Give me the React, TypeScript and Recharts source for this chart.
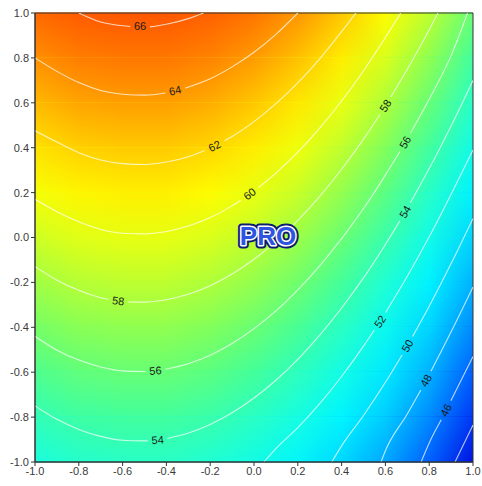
import { ComposedChart, XAxis, YAxis, Line, Scatter, ReferenceArea } from 'recharts'

const FONT = '"Liberation Sans", Arial, sans-serif'

const ticks = [-1, -0.8, -0.6, -0.4, -0.2, 0, 0.2, 0.4, 0.6, 0.8, 1]

// response surface read on a 0.2 grid, top row (y = 1) first
const gridX = [-1, -0.8, -0.6, -0.4, -0.2, 0, 0.2, 0.4, 0.6, 0.8, 1]
const gridY = [1, 0.8, 0.6, 0.4, 0.2, 0, -0.2, -0.4, -0.6, -0.8, -1]
const zRows = [
  [65.7, 66.3, 66.5, 66.5, 66.1, 65.3, 64.2, 62.7, 60.9, 58.7, 56.1],
  [64.4, 65.0, 65.2, 65.2, 64.8, 64.0, 62.9, 61.4, 59.6, 57.4, 54.8],
  [63.1, 63.7, 63.9, 63.9, 63.5, 62.7, 61.6, 60.1, 58.3, 56.1, 53.5],
  [61.8, 62.4, 62.6, 62.6, 62.2, 61.4, 60.3, 58.8, 57.0, 54.8, 52.2],
  [60.5, 61.1, 61.3, 61.3, 60.9, 60.1, 59.0, 57.5, 55.7, 53.5, 50.9],
  [59.2, 59.8, 60.0, 60.0, 59.6, 58.8, 57.7, 56.2, 54.4, 52.2, 49.6],
  [57.9, 58.5, 58.7, 58.7, 58.3, 57.5, 56.4, 54.9, 53.1, 50.9, 48.3],
  [56.6, 57.2, 57.4, 57.4, 57.0, 56.2, 55.1, 53.6, 51.8, 49.6, 47.0],
  [55.3, 55.9, 56.1, 56.1, 55.7, 54.9, 53.8, 52.3, 50.5, 48.3, 45.7],
  [54.0, 54.6, 54.8, 54.8, 54.4, 53.6, 52.5, 51.0, 49.2, 47.0, 44.4],
  [52.7, 53.3, 53.5, 53.5, 53.1, 52.3, 51.2, 49.7, 47.9, 45.7, 43.1],
]

// contour lines, [x, y]; null marks the gap left for the label
const c66 = [[-0.8, 1], [-0.7, 0.96], [-0.6, 0.943], [-0.565, 0.94], [-0.52, null], [-0.475, 0.938], [-0.4, 0.95], [-0.3, 0.975], [-0.23, 1]]
const c64 = [[-1, 0.8], [-0.9, 0.74], [-0.8, 0.69], [-0.7, 0.655], [-0.6, 0.638], [-0.5, 0.634], [-0.405, 0.644], [-0.36, null], [-0.315, 0.665], [-0.2, 0.707], [-0.1, 0.76], [0, 0.825], [0.1, 0.905], [0.2, 1]]
const c62 = [[-1, 0.475], [-0.9, 0.425], [-0.8, 0.378], [-0.7, 0.345], [-0.6, 0.329], [-0.5, 0.325], [-0.4, 0.336], [-0.3, 0.36], [-0.225, 0.388], [-0.18, null], [-0.135, 0.431], [-0.1, 0.45], [0, 0.516], [0.1, 0.596], [0.2, 0.689], [0.3, 0.796], [0.4, 0.917], [0.465, 1]]
const c60 = [[-1, 0.17], [-0.9, 0.115], [-0.8, 0.07], [-0.7, 0.036], [-0.6, 0.019], [-0.5, 0.016], [-0.4, 0.027], [-0.3, 0.051], [-0.2, 0.089], [-0.1, 0.141], [-0.06, 0.166], [-0.02, null], [0.02, 0.222], [0.1, 0.287], [0.2, 0.38], [0.3, 0.487], [0.4, 0.608], [0.5, 0.743], [0.6, 0.891], [0.67, 1]]
const c58 = [[-1, -0.13], [-0.9, -0.19], [-0.8, -0.235], [-0.7, -0.268], [-0.665, -0.275], [-0.62, null], [-0.575, -0.287], [-0.5, -0.288], [-0.4, -0.277], [-0.3, -0.253], [-0.2, -0.215], [-0.1, -0.163], [0, -0.097], [0.1, -0.018], [0.2, 0.076], [0.3, 0.183], [0.4, 0.304], [0.5, 0.438], [0.575, 0.548], [0.6, null], [0.625, 0.626], [0.7, 0.749], [0.8, 0.925], [0.84, 1]]
const c56 = [[-1, -0.44], [-0.9, -0.502], [-0.8, -0.546], [-0.7, -0.577], [-0.6, -0.594], [-0.495, -0.597], [-0.45, null], [-0.405, -0.587], [-0.3, -0.562], [-0.2, -0.524], [-0.1, -0.472], [0, -0.406], [0.1, -0.327], [0.2, -0.233], [0.3, -0.126], [0.4, -0.005], [0.5, 0.129], [0.6, 0.278], [0.666, 0.383], [0.69, null], [0.714, 0.464], [0.8, 0.616], [0.9, 0.81], [0.975, 1]]
const c54 = [[-1, -0.75], [-0.9, -0.81], [-0.8, -0.855], [-0.7, -0.886], [-0.6, -0.903], [-0.485, -0.906], [-0.44, null], [-0.395, -0.895], [-0.3, -0.871], [-0.2, -0.833], [-0.1, -0.781], [0, -0.715], [0.1, -0.636], [0.2, -0.543], [0.3, -0.435], [0.4, -0.314], [0.5, -0.18], [0.6, -0.031], [0.666, 0.074], [0.69, null], [0.714, 0.155], [0.8, 0.307], [0.9, 0.497], [1, 0.7]]
const c52 = [[0.045, -1], [0.1, -0.94], [0.2, -0.847], [0.3, -0.74], [0.4, -0.619], [0.5, -0.484], [0.549, -0.413], [0.575, null], [0.601, -0.334], [0.7, -0.173], [0.8, 0.003], [0.9, 0.193], [1, 0.39]]
const c50 = [[0.355, -1], [0.4, -0.928], [0.5, -0.793], [0.6, -0.645], [0.676, -0.523], [0.7, null], [0.724, -0.441], [0.8, -0.306], [0.9, -0.116], [1, 0.085]]
const c48 = [[0.58, -1], [0.6, -0.95], [0.7, -0.786], [0.762, -0.679], [0.785, null], [0.808, -0.596], [0.9, -0.42], [1, -0.22]]
const c46 = [[0.763, -1], [0.8, -0.915], [0.855, -0.812], [0.877, null], [0.899, -0.727], [1, -0.53]]
const c44 = [[0.918, -1], [1, -0.835]]

const contours = [c66, c64, c62, c60, c58, c56, c54, c52, c50, c48, c46, c44]

const labelText = ['66', '64', '62', '60', '58', '56', '54', '58', '56', '54', '52', '50', '48', '46']
const labelX = [-0.52, -0.36, -0.18, -0.02, -0.62, -0.45, -0.44, 0.6, 0.69, 0.69, 0.575, 0.7, 0.785, 0.877]
const labelY = [0.94, 0.655, 0.408, 0.195, -0.282, -0.593, -0.901, 0.587, 0.424, 0.115, -0.374, -0.482, -0.637, -0.769]
const labelTilt = [0, -13, -26, -38, 7, -4, -4, -58, -60, -60, -57, -60, -62, -63]

// colour map (z -> rgb)
const heatStops: [number, number[]][] = [
  [43, [0, 16, 224]],
  [45, [0, 72, 255]],
  [47, [0, 140, 255]],
  [49, [0, 200, 255]],
  [51, [0, 245, 255]],
  [53, [30, 255, 215]],
  [55, [70, 255, 150]],
  [57, [130, 255, 90]],
  [59, [200, 255, 40]],
  [60.8, [255, 255, 0]],
  [62.5, [255, 205, 0]],
  [64, [255, 155, 0]],
  [65.5, [255, 110, 0]],
  [67, [255, 75, 0]],
]

function heatColor(z: number) {
  if (z <= heatStops[0][0]) return `rgb(${heatStops[0][1].join(',')})`
  for (let i = 1; i < heatStops.length; i++) {
    const [z1, c1] = heatStops[i]
    if (z <= z1) {
      const [z0, c0] = heatStops[i - 1]
      const t = (z - z0) / (z1 - z0)
      const c = c0.map((v, j) => Math.round(v + (c1[j] - v) * t))
      return `rgb(${c.join(',')})`
    }
  }
  return `rgb(${heatStops[heatStops.length - 1][1].join(',')})`
}

function HeatDefs() {
  return (
    <defs>
      {zRows.map((row, r) => (
        <linearGradient key={r} id={`heat-row-${r}`} x1="0" y1="0" x2="1" y2="0">
          {row.map((z, i) => (
            <stop key={i} offset={(gridX[i] + 1) / 2} stopColor={heatColor(z)} />
          ))}
        </linearGradient>
      ))}
      <linearGradient id="heat-fade-grad" x1="0" y1="0" x2="0" y2="1">
        <stop offset={0} stopColor="#fff" />
        <stop offset={1} stopColor="#000" />
      </linearGradient>
      <mask id="heat-fade" maskContentUnits="objectBoundingBox">
        <rect x={0} y={0} width={1} height={1} fill="url(#heat-fade-grad)" />
      </mask>
    </defs>
  )
}

// one band between two grid rows: lower row underneath, upper row faded in on top
function HeatBand(props: any) {
  const { x, y, width, height, k } = props
  return (
    <g>
      {k === 0 && <HeatDefs />}
      <rect x={x} y={y - 0.5} width={width} height={height + 1} fill={`url(#heat-row-${k + 1})`} />
      <rect x={x} y={y - 0.5} width={width} height={height + 1} fill={`url(#heat-row-${k})`} mask="url(#heat-fade)" />
    </g>
  )
}

function ContourLabel(props: any) {
  const { cx, cy, payload } = props
  return (
    <text
      x={cx}
      y={cy}
      transform={`rotate(${payload.tilt} ${cx} ${cy})`}
      textAnchor="middle"
      dominantBaseline="central"
      fontSize={11}
      fontFamily={FONT}
      fill="#1a1a1a"
    >
      {payload.text}
    </text>
  )
}

function ProMark(props: any) {
  const { cx, cy } = props
  const common = {
    x: cx, y: cy, textAnchor: 'middle' as const, dominantBaseline: 'central' as const,
    fontSize: 26, fontWeight: 900, fontFamily: FONT, strokeLinejoin: 'round' as const,
  }
  return (
    <g>
      <text {...common} fill="#0c1d70" stroke="#0c1d70" strokeWidth={7}>PRO</text>
      <text {...common} fill="#fff" stroke="#fff" strokeWidth={3}>PRO</text>
      <text {...common} fill="#2e55e0">PRO</text>
    </g>
  )
}

export default function App() {
  const lines = contours.map(c => c.map(([x, y]) => ({ x, y })))
  const labels = labelText.map((text, i) => ({ x: labelX[i], y: labelY[i], text, tilt: labelTilt[i] }))
  const tickStyle = { fontSize: 11, fill: '#3a3a3a', fontFamily: FONT }

  return (
    <div style={{ position: 'absolute', left: 0, top: 0, width: 482, height: 486, background: '#fff' }}>
      <ComposedChart width={482} height={486} margin={{ top: 13, right: 9, bottom: 4, left: 5 }}>
        <XAxis
          type="number"
          dataKey="x"
          domain={[-1, 1]}
          ticks={ticks}
          interval={0}
          allowDataOverflow
          tickFormatter={(v: number) => v.toFixed(1)}
          tick={tickStyle}
          tickSize={4}
          tickMargin={1}
          height={20}
          axisLine={{ stroke: '#333' }}
          tickLine={{ stroke: '#333' }}
        />
        <YAxis
          type="number"
          dataKey="y"
          domain={[-1, 1]}
          ticks={ticks}
          interval={0}
          allowDataOverflow
          tickFormatter={(v: number) => v.toFixed(1)}
          tick={tickStyle}
          tickSize={4}
          tickMargin={2}
          width={30}
          axisLine={{ stroke: '#333' }}
          tickLine={{ stroke: '#333' }}
        />
        {gridY.slice(0, -1).map((top, k) => (
          <ReferenceArea
            key={k}
            x1={-1}
            x2={1}
            y1={gridY[k + 1]}
            y2={top}
            ifOverflow="visible"
            shape={(p: any) => <HeatBand {...p} k={k} />}
          />
        ))}
        <ReferenceArea x1={-1} x2={1} y1={-1} y2={1} ifOverflow="visible" fill="none" fillOpacity={0} stroke="#333" strokeWidth={1} />
        {lines.map((pts, i) => (
          <Line
            key={i}
            data={pts}
            dataKey="y"
            type="monotone"
            stroke="rgba(255,255,255,0.72)"
            strokeWidth={1.1}
            dot={false}
            activeDot={false}
            connectNulls={false}
            isAnimationActive={false}
          />
        ))}
        <Scatter data={labels} dataKey="y" shape={ContourLabel} isAnimationActive={false} />
        <Scatter data={[{ x: 0.064, y: 0.007 }]} dataKey="y" shape={ProMark} isAnimationActive={false} />
      </ComposedChart>
    </div>
  )
}
